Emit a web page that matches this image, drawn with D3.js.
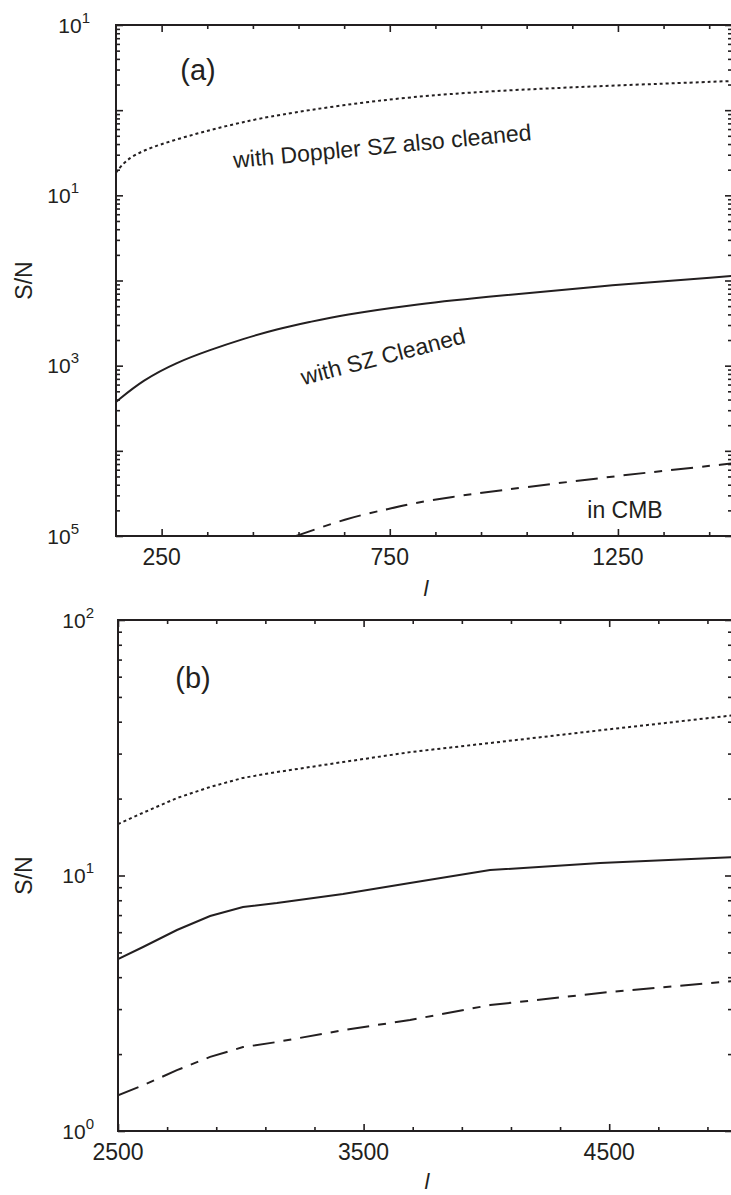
<!DOCTYPE html>
<html><head><meta charset="utf-8">
<script src="https://cdn.jsdelivr.net/npm/d3@7"></script>
<style>
html,body{margin:0;padding:0;background:#fff;}
svg{display:block;font-family:"Liberation Sans",Arial,Helvetica,sans-serif;}
</style></head><body>
<svg id="chart" width="731" height="1195"></svg>
<script>
// ---------- Panel (a) data ----------
const lA_doppler  = [150, 170, 209, 284, 356, 428, 503, 647, 794, 970, 1211, 1500];
const snA_doppler = [0.185, 0.255, 0.340, 0.458, 0.585, 0.726, 0.877, 1.15, 1.43, 1.68, 1.92, 2.20];

const lA_sz  = [150, 209, 284, 356, 428, 503, 575, 647, 794, 948, 1211, 1500];
const snA_sz = [3.75e-4, 6.79e-4, 1.10e-3, 1.53e-3, 2.06e-3, 2.70e-3, 3.26e-3, 3.94e-3, 5.16e-3, 6.32e-3, 8.63e-3, 1.13e-2];

const lA_cmb  = [540, 658, 737, 803, 884, 988, 1211, 1346, 1500];
const snA_cmb = [9.8e-6, 1.63e-5, 2.02e-5, 2.44e-5, 2.87e-5, 3.42e-5, 4.80e-5, 5.80e-5, 7.10e-5];

const xTicksA = [250, 750, 1250];
const yTicksA = [1e1, 1e-1, 1e-3, 1e-5];
const yTickExpA = ["1", "1", "3", "5"];

// ---------- Panel (b) data ----------
const lB = [2500, 2602, 2740, 2875, 3009, 3147, 3416, 3689, 4015, 4463, 5000];
const snB_doppler = [15.9, 17.6, 20.1, 22.2, 24.1, 25.4, 27.8, 30.4, 33.0, 37.0, 42.3];
const snB_sz      = [4.71, 5.25, 6.12, 6.94, 7.53, 7.80, 8.47, 9.35, 10.5, 11.2, 11.8];
const snB_cmb     = [1.38, 1.51, 1.73, 1.95, 2.13, 2.23, 2.48, 2.72, 3.11, 3.47, 3.86];

const xTicksB = [2500, 3500, 4500];
const yTicksB = [1e2, 1e1, 1e0];
const yTickExpB = ["2", "1", "0"];

// ---------- drawing ----------
const INK = "#231f20";
const svg = d3.select("#chart");
const DOT = "3,3", DASHDOT = "22,9,8,9";

function drawPanel(cfg) {
  const x = d3.scaleLinear().domain(cfg.xDomain).range([cfg.left, cfg.right]);
  const y = d3.scaleLog().domain(cfg.yDomain).range([cfg.bottom, cfg.top]);
  const g = svg.append("g");
  const clipId = "clip-" + cfg.id;
  svg.append("clipPath").attr("id", clipId).append("rect")
    .attr("x", cfg.left).attr("y", cfg.top)
    .attr("width", cfg.right - cfg.left).attr("height", cfg.bottom - cfg.top);

  cfg.series.forEach(s => {
    const pts = s.l.map((d, i) => [d, s.v[i]]);
    g.append("path")
      .attr("clip-path", `url(#${clipId})`)
      .attr("d", d3.line().x(d => x(d[0])).y(d => y(d[1])).curve(s.curve)(pts))
      .attr("fill", "none").attr("stroke", INK).attr("stroke-width", 2)
      .attr("stroke-dasharray", s.dash);
  });

  const decades = y.ticks().filter(v => Math.abs(Math.log10(v) - Math.round(Math.log10(v))) < 1e-9);
  const minorsY = y.ticks().filter(v => !decades.includes(v));
  const xMinor = cfg.xMinor.filter(v => !cfg.xTicks.includes(v));

  const axes = [
    [d3.axisLeft(y).tickValues(decades), `translate(${cfg.left},0)`, 7],
    [d3.axisLeft(y).tickValues(minorsY), `translate(${cfg.left},0)`, 4],
    [d3.axisRight(y).tickValues(decades), `translate(${cfg.right},0)`, 7],
    [d3.axisRight(y).tickValues(minorsY), `translate(${cfg.right},0)`, 4],
    [d3.axisBottom(x).tickValues(cfg.xTicks), `translate(0,${cfg.bottom})`, 7],
    [d3.axisBottom(x).tickValues(xMinor), `translate(0,${cfg.bottom})`, 4],
    [d3.axisTop(x).tickValues(cfg.xTicks), `translate(0,${cfg.top})`, 7],
    [d3.axisTop(x).tickValues(xMinor), `translate(0,${cfg.top})`, 4]
  ];
  axes.forEach(([ax, tr, len]) => {
    const a = g.append("g").attr("transform", tr)
      .call(ax.tickSize(-len).tickSizeOuter(0).tickFormat(""));
    a.select(".domain").remove();
    a.selectAll("line").attr("stroke", INK).attr("stroke-width", 1.6);
  });

  g.append("rect").attr("x", cfg.left).attr("y", cfg.top)
    .attr("width", cfg.right - cfg.left).attr("height", cfg.bottom - cfg.top)
    .attr("fill", "none").attr("stroke", INK).attr("stroke-width", 2);

  // x tick labels
  g.selectAll(".xl").data(cfg.xTicks).join("text")
    .attr("x", d => x(d)).attr("y", cfg.bottom + 29)
    .attr("text-anchor", "middle").attr("font-size", 23).attr("fill", INK)
    .text(d => d);

  // y tick labels
  cfg.yTicks.forEach((v, i) => {
    const t = g.append("text")
      .attr("x", cfg.left - cfg.yGap[i]).attr("y", y(v) + 7.5)
      .attr("text-anchor", "end").attr("font-size", 21).attr("fill", INK);
    t.append("tspan").text("10");
    t.append("tspan").attr("dy", -10).attr("font-size", 15).text(cfg.yExp[i]);
  });

  // axis titles
  g.append("text").attr("x", (cfg.left + cfg.right) / 2 + 2).attr("y", cfg.xTitleY)
    .attr("text-anchor", "middle").attr("font-size", 22).attr("font-style", "italic")
    .attr("fill", INK).text("l");
  g.append("text")
    .attr("transform", `translate(32,${(cfg.top + cfg.bottom) / 2}) rotate(-90)`)
    .attr("text-anchor", "middle").attr("font-size", 23).attr("fill", INK).text("S/N");

  cfg.notes.forEach(n => {
    g.append("text")
      .attr("transform", `translate(${n.x},${n.y}) rotate(${n.rot || 0})`)
      .attr("text-anchor", "middle").attr("font-size", n.size).attr("fill", INK)
      .text(n.text);
  });
}

drawPanel({
  id: "a", left: 116, right: 732, top: 25, bottom: 536, xTitleY: 596,
  xDomain: [150, 1500], yDomain: [1e-5, 1e1],
  xTicks: xTicksA, xMinor: d3.range(250, 1500, 100),
  yTicks: yTicksA, yExp: yTickExpA, yGap: [26, 37, 37, 37],
  series: [
    { l: lA_doppler, v: snA_doppler, dash: DOT, curve: d3.curveBasis },
    { l: lA_sz, v: snA_sz, dash: null, curve: d3.curveBasis },
    { l: lA_cmb, v: snA_cmb, dash: DASHDOT, curve: d3.curveBasis }
  ],
  notes: [
    { text: "(a)", x: 198, y: 80, size: 29 },
    { text: "with Doppler SZ also cleaned", x: 383, y: 154, rot: -5.4, size: 23 },
    { text: "with SZ Cleaned", x: 385, y: 364, rot: -14.5, size: 23 },
    { text: "in CMB", x: 625, y: 518, size: 23 }
  ]
});

drawPanel({
  id: "b", left: 118, right: 732, top: 620, bottom: 1131, xTitleY: 1189,
  xDomain: [2500, 5000], yDomain: [1, 100],
  xTicks: xTicksB, xMinor: d3.range(2500, 5000, 200),
  yTicks: yTicksB, yExp: yTickExpB, yGap: [24, 24, 24],
  series: [
    { l: lB, v: snB_doppler, dash: DOT, curve: d3.curveLinear },
    { l: lB, v: snB_sz, dash: null, curve: d3.curveLinear },
    { l: lB, v: snB_cmb, dash: DASHDOT, curve: d3.curveLinear }
  ],
  notes: [
    { text: "(b)", x: 193, y: 688, size: 29 }
  ]
});
</script>
</body></html>
